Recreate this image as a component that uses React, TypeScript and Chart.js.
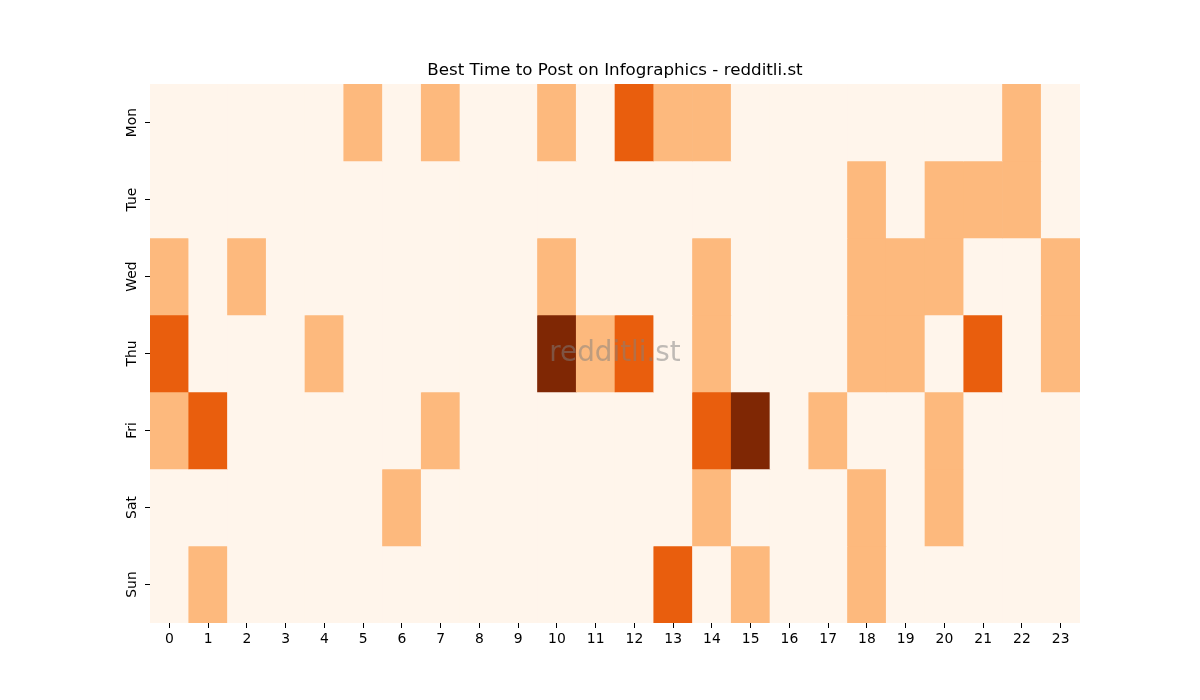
import React, { useEffect, useRef } from 'react';
import Chart from 'chart.js/auto';

const days = ['Mon', 'Tue', 'Wed', 'Thu', 'Fri', 'Sat', 'Sun'];
const hours = ['0', '1', '2', '3', '4', '5', '6', '7', '8', '9', '10', '11', '12', '13', '14', '15', '16', '17', '18', '19', '20', '21', '22', '23'];

// activity level per hour (0 = none .. 3 = best)
const mon = [0, 0, 0, 0, 0, 1, 0, 1, 0, 0, 1, 0, 2, 1, 1, 0, 0, 0, 0, 0, 0, 0, 1, 0];
const tue = [0, 0, 0, 0, 0, 0, 0, 0, 0, 0, 0, 0, 0, 0, 0, 0, 0, 0, 1, 0, 1, 1, 1, 0];
const wed = [1, 0, 1, 0, 0, 0, 0, 0, 0, 0, 1, 0, 0, 0, 1, 0, 0, 0, 1, 1, 1, 0, 0, 1];
const thu = [2, 0, 0, 0, 1, 0, 0, 0, 0, 0, 3, 1, 2, 0, 1, 0, 0, 0, 1, 1, 0, 2, 0, 1];
const fri = [1, 2, 0, 0, 0, 0, 0, 1, 0, 0, 0, 0, 0, 0, 2, 3, 0, 1, 0, 0, 1, 0, 0, 0];
const sat = [0, 0, 0, 0, 0, 0, 1, 0, 0, 0, 0, 0, 0, 0, 1, 0, 0, 0, 1, 0, 1, 0, 0, 0];
const sun = [0, 1, 0, 0, 0, 0, 0, 0, 0, 0, 0, 0, 0, 2, 0, 1, 0, 0, 1, 0, 0, 0, 0, 0];

const rows = [mon, tue, wed, thu, fri, sat, sun];

// matplotlib "Oranges" sampled at 0, 1/3, 2/3, 1
const palette = ['#fff5eb', '#fdb97d', '#e95e0d', '#7f2704'];

const FONT = 'DejaVu Sans';

const watermark = {
  id: 'watermark',
  afterDatasetsDraw(chart: any) {
    const { ctx, chartArea } = chart;
    ctx.save();
    ctx.font = `27.8px "${FONT}"`;
    ctx.fillStyle = 'rgba(128,128,128,0.5)';
    ctx.textAlign = 'center';
    ctx.textBaseline = 'middle';
    ctx.fillText('redditli.st', (chartArea.left + chartArea.right) / 2, (chartArea.top + chartArea.bottom) / 2);
    ctx.restore();
  },
};

const Heatmap: React.FC = () => {
  const chartRef = useRef<HTMLCanvasElement>(null);
  const chartInstance = useRef<Chart | null>(null);

  useEffect(() => {
    if (!chartRef.current) return;
    if (chartInstance.current) {
      chartInstance.current.destroy();
    }
    const ctx = chartRef.current.getContext('2d');
    if (!ctx) return;

    const datasets = rows.map((row, d) => ({
      label: days[d],
      data: row.map(() => [d, d + 1]),
      backgroundColor: row.map(v => palette[v]),
      borderWidth: 0,
      barPercentage: 1,
      categoryPercentage: 1,
      grouped: false,
    }));

    chartInstance.current = new Chart(ctx, {
      type: 'bar',
      data: { labels: hours, datasets: datasets as any },
      plugins: [watermark],
      options: {
        responsive: false,
        animation: false,
        layout: { padding: { left: 0, right: 120, top: 0, bottom: 0 } },
        plugins: {
          legend: { display: false },
          tooltip: { enabled: false },
          title: {
            display: true,
            fullSize: false,
            text: 'Best Time to Post on Infographics - redditli.st',
            color: '#000',
            font: { family: FONT, size: 16.7, weight: 'normal', lineHeight: 1.2 },
            padding: { top: 61, bottom: 3 },
          },
        },
        scales: {
          x: {
            type: 'category',
            border: { display: false },
            grid: { drawOnChartArea: false, offset: false, tickLength: 5, color: '#000', lineWidth: 1 },
            ticks: { color: '#000', padding: 3, font: { family: FONT, size: 13.9 }, maxRotation: 0, autoSkip: false },
            afterFit: (scale: any) => { scale.height = 77; },
          },
          y: {
            type: 'linear',
            min: 0,
            max: 7,
            reverse: true,
            border: { display: false },
            grid: { drawOnChartArea: false, tickLength: 5, color: '#000', lineWidth: 1 },
            afterBuildTicks: (scale: any) => {
              scale.ticks = days.map((_, i) => ({ value: i + 0.5 }));
            },
            ticks: {
              color: '#000',
              padding: -3,
              crossAlign: 'center',
              minRotation: 90,
              maxRotation: 90,
              font: { family: FONT, size: 13.9 },
              callback: (v: any) => days[Math.floor(Number(v))],
            },
            afterFit: (scale: any) => { scale.width = 150; },
          },
        },
      },
    });

    return () => {
      if (chartInstance.current) {
        chartInstance.current.destroy();
        chartInstance.current = null;
      }
    };
  }, []);

  return (
    <div style={{ position: 'absolute', left: 0, top: 0, width: 1200, height: 700, background: '#fff' }}>
      <canvas ref={chartRef} width={1200} height={700}></canvas>
    </div>
  );
};

export default function App() {
  return <Heatmap />;
}
